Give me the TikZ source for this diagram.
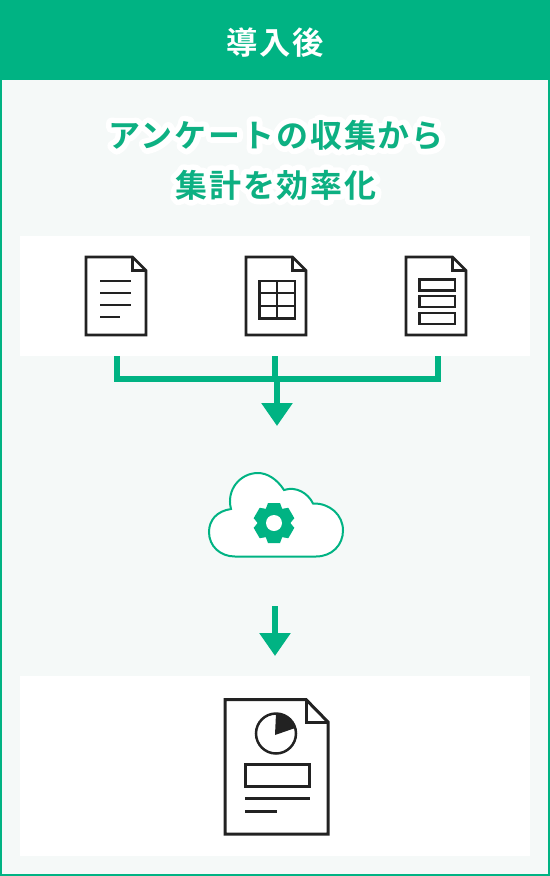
\documentclass[tikz,border=0pt]{standalone}
\usepackage{fontspec}
\usepackage{tikz}
\usetikzlibrary{arrows.meta,positioning,calc}
\newfontfamily\jpbold[LetterSpace=6]{Noto Sans CJK JP Bold}
\newfontfamily\jphalo[LetterSpace=6,FakeBold=35]{Noto Sans CJK JP Bold}
\definecolor{AGreen}{HTML}{00B383}
\definecolor{AGreenText}{HTML}{0DB082}
\definecolor{APanel}{HTML}{F5F9F8}
\definecolor{AInk}{HTML}{222222}
\tikzset{
  flow/.style={-{Triangle[length=.46cm,width=.6cm]},AGreen,line width=.12cm},
  branch/.style={AGreen,line width=.12cm,line join=miter},
  panel/.style={draw=AGreen,line width=.04cm,fill=APanel,minimum width=10.96cm,minimum height=17.48cm},
  header/.style={fill=AGreen,text=white,minimum width=11cm,minimum height=1.6cm,text height=.64cm,text depth=.06cm,
                 font=\fontsize{17.8}{21}\jpbold},
  card/.style={fill=white,minimum width=10.2cm},
  headline/.style={text=AGreenText,align=center,font=\fontsize{18.2}{28.35}\selectfont\jpbold},
  icon/.style={draw=AInk,line width=.054cm,line join=miter},
  iconbig/.style={draw=AInk,line width=.06cm,line join=miter},
}
\newcommand{\halotext}[1]{\leavevmode\rlap{\special{pdf:code 1 j}\jphalo\color{white}#1\special{pdf:code 0 j}}#1}
\newcommand{\docicon}[2]{%
  \begin{scope}[shift={(#1,#2)}]
    \path[icon,fill=white] (-30,-39) -- (16.5,-39) -- (30,-25.5) -- (30,39) -- (-30,39) -- cycle;
    \path[icon] (16.5,-39) -- (16.5,-25.5) -- (30,-25.5);
  \end{scope}%
}
\begin{document}
\begin{tikzpicture}[x=.02cm,y=-.02cm]
    \useasboundingbox (0,0) rectangle (550,876);
    % frame, title band and the two white cards
    \node[panel] (frame) at (275,438) {};
    \node[header] (title) at (275,40) {導入後};
    \node[headline] (lead) at (276,160) {\halotext{アンケートの収集から}\\\halotext{集計を効率化}};
    \node[card,minimum height=2.4cm] (sources) at (275,296) {};
    \node[card,minimum height=3.6cm] (report) at (275,766) {};

    % three source sheets
    \docicon{116}{296}
    \draw[icon] (100,281) -- (131,281) (100,293) -- (131,293) (100,305) -- (131,305) (100,317) -- (120,317);
    \docicon{276}{296}
    \draw[icon] (259.5,281) rectangle (295,318.5) (277,281) -- (277,318.5) (259.5,293) -- (295,293) (259.5,306) -- (295,306);
    \docicon{436}{296}
    \draw[icon] (419.5,279.5) rectangle (455,290.5) (419.5,296) rectangle (455,307) (419.5,313) rectangle (455,324);

    % cloud with gear
    \coordinate (cloudtop) at (277,426);
    \path[draw=AGreen,line width=.04cm,fill=white]
      (235,556.5) -- (316,556.5)
      .. controls (332,556.5) and (343,545) .. (343,530.5)
      .. controls (343,515) and (330,503) .. (313,503.5)
      .. controls (308,493) and (296,486) .. (284,490)
      .. controls (277,479) and (267,473) .. (258,473)
      .. controls (240,473) and (226,490) .. (231,509)
      .. controls (217,511) and (209,520) .. (209,532)
      .. controls (209,546) and (220,556.5) .. (235,556.5) -- cycle;
    \node[circle,fill=AGreen,minimum size=.64cm,inner sep=0pt] (gear) at (274,523) {};
    \foreach \a in {30,90,...,330}
      \fill[AGreen,rotate around={\a:(gear.center)}]
        ($(gear.center)+(12,-9)$) -- ($(gear.center)+(20,-6)$) -- ($(gear.center)+(20,6)$) -- ($(gear.center)+(12,9)$) -- cycle;
    \node[circle,fill=white,minimum size=.32cm,inner sep=0pt] at (gear.center) {};

    % report sheet
    \path[iconbig,fill=white] (225,699.5) -- (306,699.5) -- (328,722) -- (328,834) -- (225,834) -- cycle;
    \path[iconbig] (306,699.5) -- (306,722) -- (328,722);
    \coordinate (pie) at (276,733.5);
    \fill[AInk] (275,735) -- (276,713.5) arc (-90:-16:20) -- cycle;
    \draw[iconbig,line width=.05cm] (pie) circle (20);
    \draw[iconbig] (245.5,764.5) rectangle (309,786.5);
    \draw[iconbig] (245,798) -- (310,798) (245,811.5) -- (277,811.5);

    % connectors
    \coordinate (srcA) at (117,356);
    \coordinate (srcB) at (275,356);
    \coordinate (srcC) at (437.5,356);
    \coordinate (join) at (277,379);
    \draw[branch] (srcA) |- (srcC |- join) -- (srcC);
    \draw[branch] (srcB) -- (srcB |- join);
    \draw[flow] (join) -- (cloudtop);
    \coordinate (nextA) at (275,606);
    \coordinate (nextB) at (275,656);
    \draw[flow] (nextA) -- (nextB);
\end{tikzpicture}
\end{document}
